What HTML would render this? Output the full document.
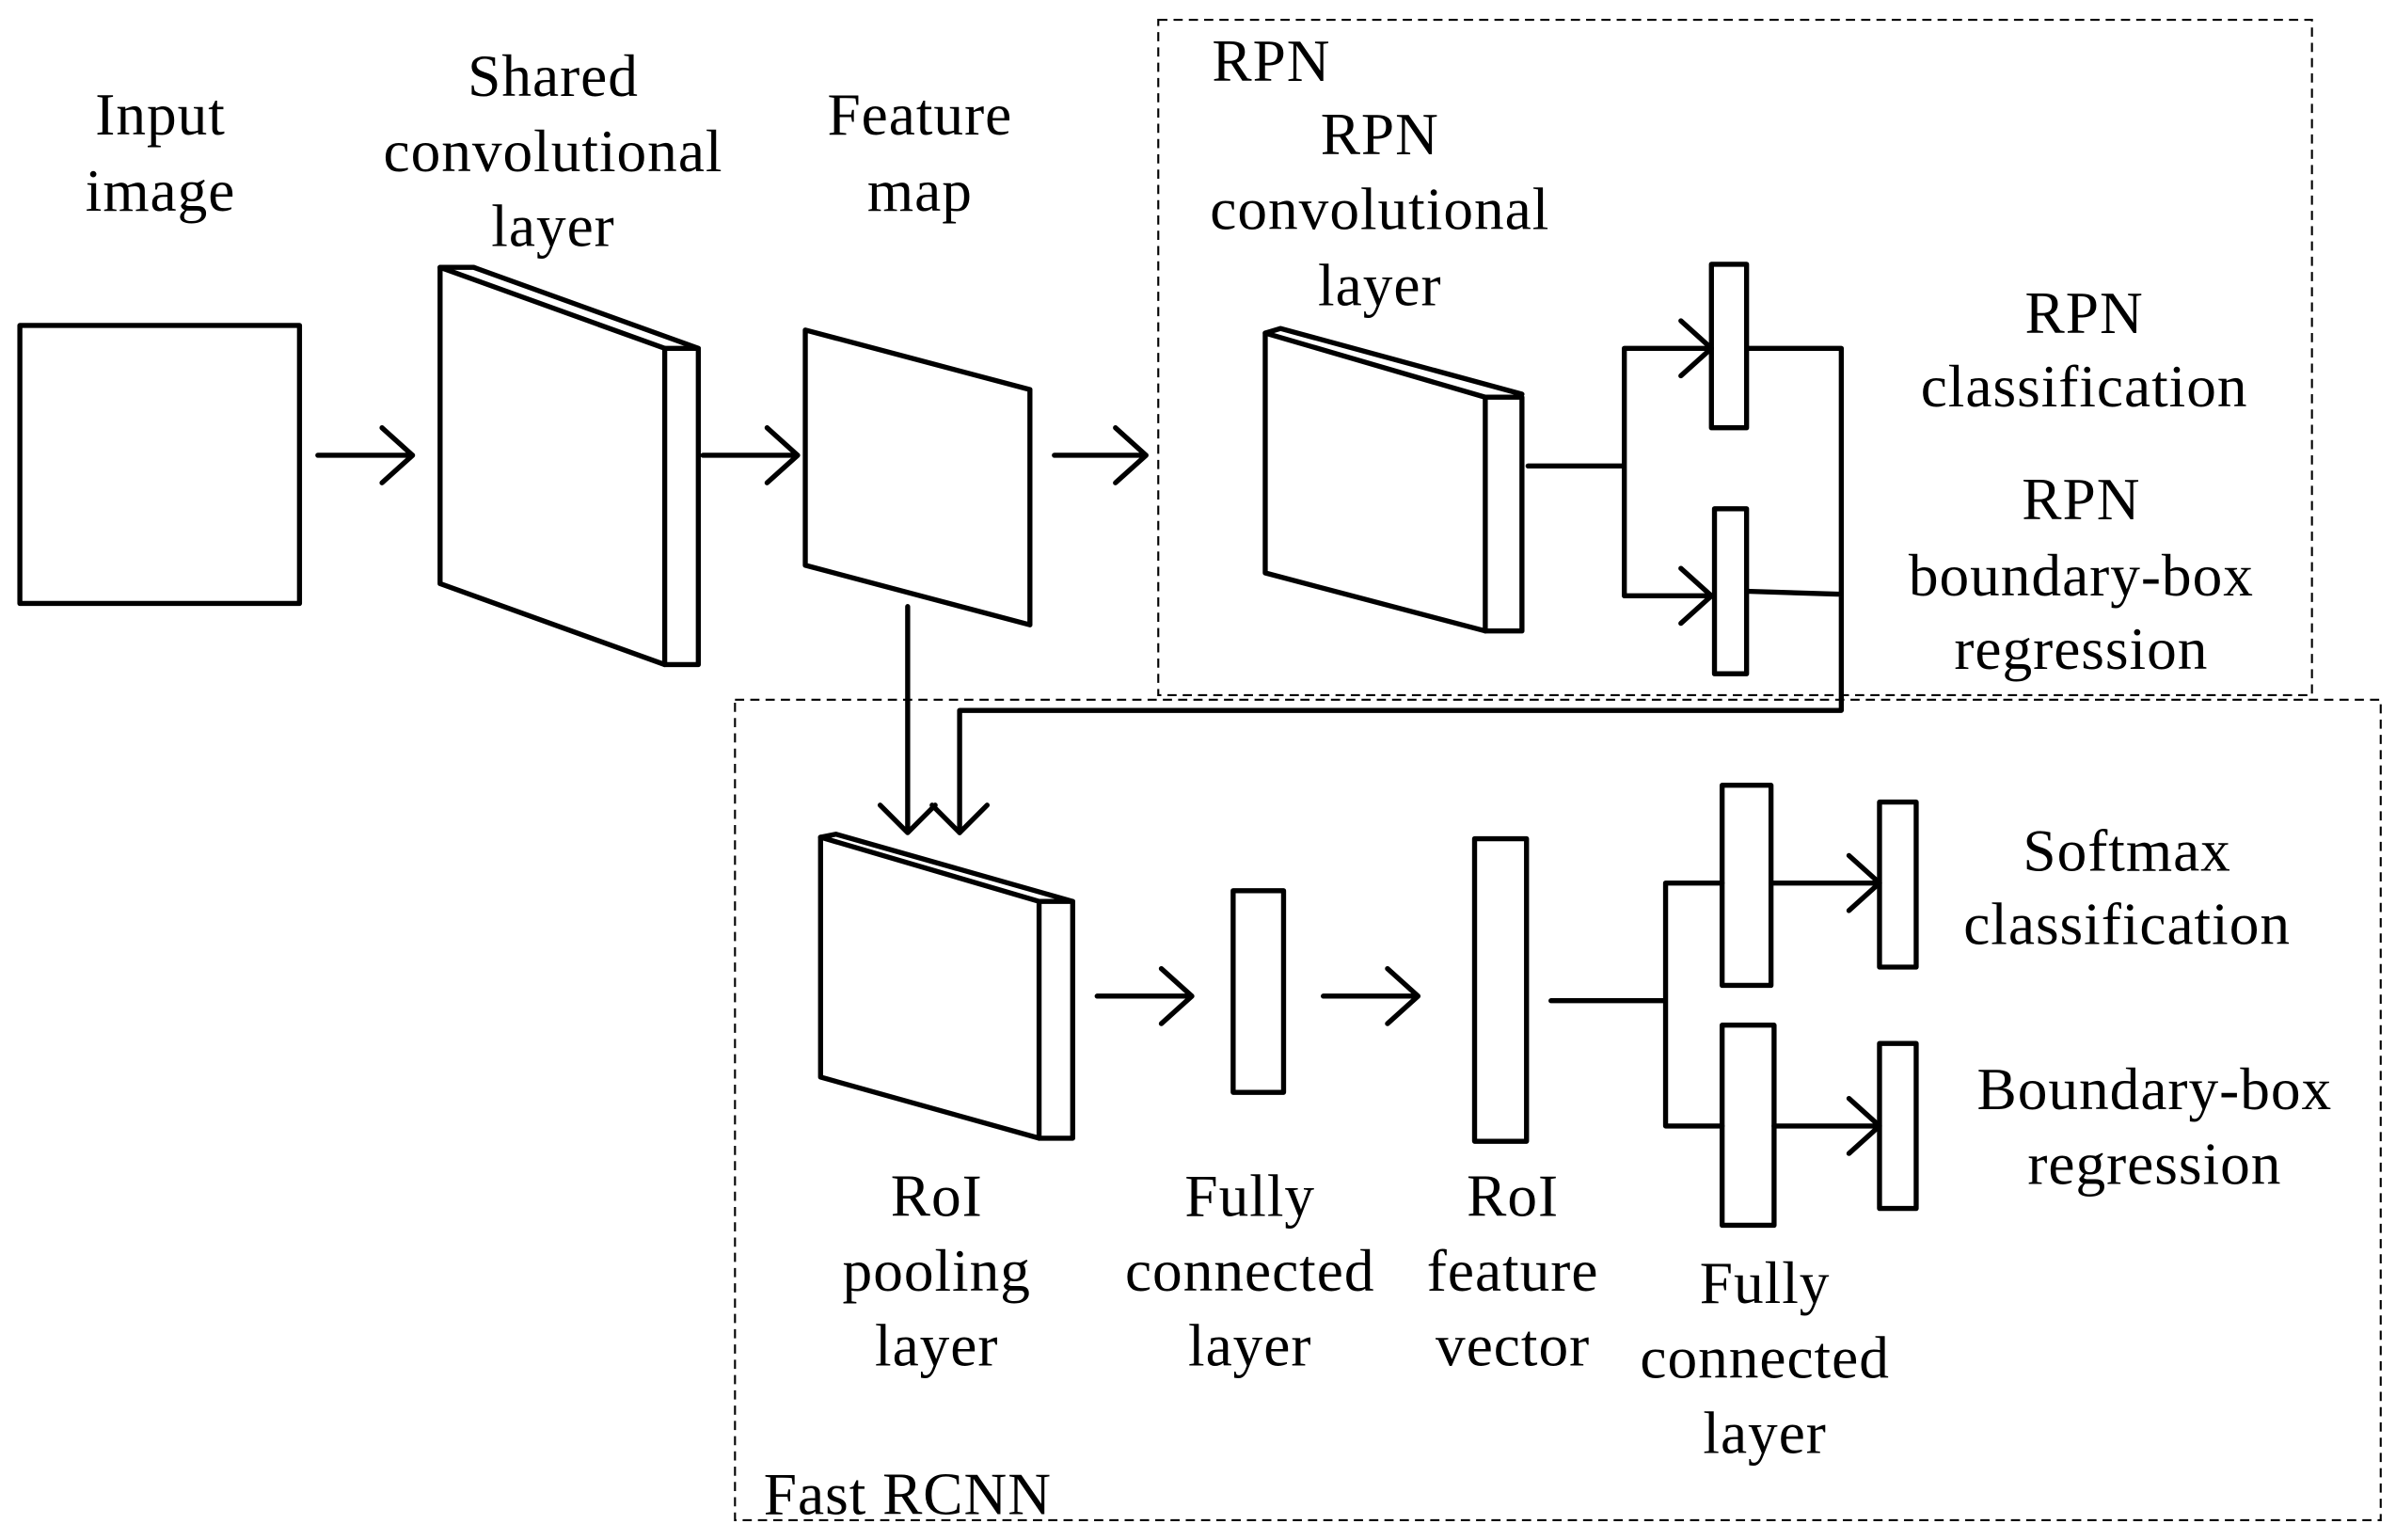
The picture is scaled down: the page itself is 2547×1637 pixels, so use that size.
<!DOCTYPE html>
<html><head><style>html,body{margin:0;padding:0;background:#fff}svg{display:block}</style></head>
<body>
<svg width="2547" height="1637" viewBox="0 0 1568 1008" preserveAspectRatio="none" xmlns="http://www.w3.org/2000/svg">
<g fill="none" stroke="#000" stroke-width="3.3" stroke-linejoin="round" stroke-linecap="round">
<rect x="13" y="213" width="183" height="182"/>
<path d="M208 298H270M250 280L270 298L250 316"/>
<path d="M460 298H522M502 280L522 298L502 316"/>
<path d="M690 298H750M730 280L750 298L730 316"/>
<path d="M288 175L435 228V435L288 382Z"/>
<path d="M435 228H457V435H435"/>
<path d="M288 175L310 175L457 228"/>
<path d="M527 216L674 255V409L527 370Z"/>
<path d="M828 218L972 260V413L828 375Z"/>
<path d="M972 260H996V413H972"/>
<path d="M828 218L838 215L996 258"/>
<path d="M1000 305H1063M1063 228V390M1063 228H1120M1063 390H1120"/>
<path d="M1100 210L1120 228L1100 246M1100 372L1120 390L1100 408"/>
<rect x="1120" y="173" width="23" height="107"/>
<rect x="1122" y="333" width="21" height="108"/>
<path d="M1143 228H1205V465H628V545M1143 387L1205 389"/>
<path d="M610 527L628 545L646 527"/>
<path d="M594 397V545M576 527L594 545L612 527"/>
<path d="M537 548L680 590V745L537 705Z"/>
<path d="M680 590H702V745H680"/>
<path d="M537 548L547 546L702 590"/>
<path d="M718 652H780M760 634L780 652L760 670"/>
<rect x="807" y="583" width="33" height="132"/>
<path d="M866 652H928M908 634L928 652L908 670"/>
<rect x="965" y="549" width="34" height="198"/>
<path d="M1015 655H1090M1090 578V737M1090 578H1127M1090 737H1127"/>
<rect x="1127" y="514" width="32" height="131"/>
<rect x="1127" y="671" width="34" height="131"/>
<path d="M1159 578H1230M1210 560L1230 578L1210 596M1161 737H1230M1210 719L1230 737L1210 755"/>
<rect x="1230" y="525" width="24" height="108"/>
<rect x="1230" y="683" width="24" height="108"/>
</g>
<g fill="none" stroke="#000" stroke-width="1.3" stroke-dasharray="6 4">
<rect x="758" y="13" width="755" height="442"/>
<rect x="481" y="458" width="1077" height="537"/>
</g>
<g font-family="Liberation Serif, serif" font-size="39" letter-spacing="0.6" text-anchor="middle" dominant-baseline="central" fill="#000">
<text x="105" y="75">Input</text><text x="105" y="125">image</text>
<text x="362" y="50">Shared</text><text x="362" y="99">convolutional</text><text x="362" y="148">layer</text>
<text x="602" y="75">Feature</text><text x="602" y="125">map</text>
<text x="832" y="40">RPN</text>
<text x="903" y="88">RPN</text><text x="903" y="137">convolutional</text><text x="903" y="187">layer</text>
<text x="1364" y="205">RPN</text><text x="1364" y="253">classification</text>
<text x="1362" y="327">RPN</text><text x="1362" y="377">boundary-box</text><text x="1362" y="425">regression</text>
<text x="1392" y="557">Softmax</text><text x="1392" y="605">classification</text>
<text x="1410" y="713">Boundary-box</text><text x="1410" y="762">regression</text>
<text x="613" y="783">RoI</text><text x="613" y="832">pooling</text><text x="613" y="881">layer</text>
<text x="818" y="783">Fully</text><text x="818" y="832">connected</text><text x="818" y="881">layer</text>
<text x="990" y="783">RoI</text><text x="990" y="832">feature</text><text x="990" y="881">vector</text>
<text x="1155" y="840">Fully</text><text x="1155" y="889">connected</text><text x="1155" y="938">layer</text>
<text x="594" y="978">Fast RCNN</text>
</g>
</svg>
</body></html>
